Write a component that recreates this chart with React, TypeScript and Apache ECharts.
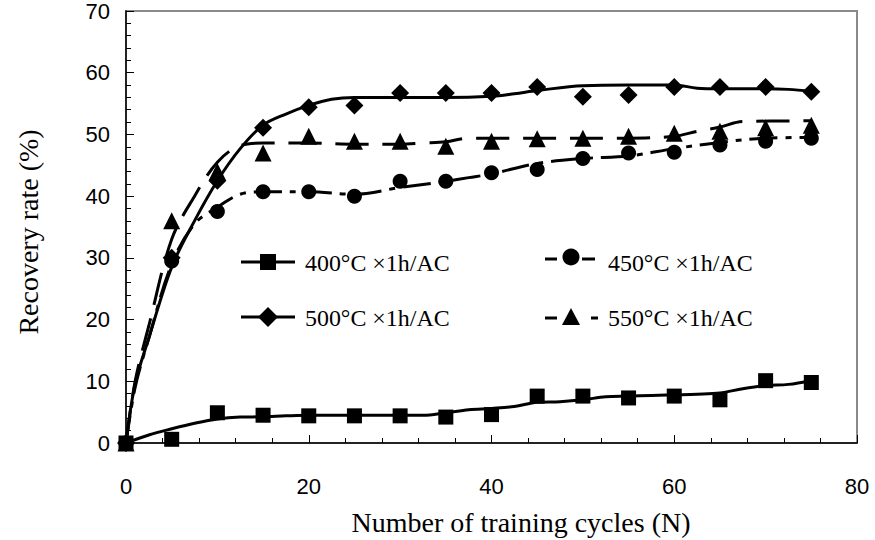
import React, { useEffect, useRef } from "react";
import * as echarts from "echarts";

// Marker positions (training cycles)
const markerCycles = [0, 5, 10, 15, 20, 25, 30, 35, 40, 45, 50, 55, 60, 65, 70, 75];
const markers400 = [0, 0.6, 4.9, 4.5, 4.4, 4.4, 4.4, 4.2, 4.6, 7.6, 7.6, 7.3, 7.6, 7.0, 10.1, 9.8];
const markers450 = [0, 29.5, 37.5, 40.7, 40.7, 40.0, 42.4, 42.4, 43.8, 44.3, 46.1, 47.0, 47.1, 48.3, 48.9, 49.4];
const markers500 = [0, 30, 42.5, 51.1, 54.4, 54.7, 56.7, 56.7, 56.7, 57.7, 56.1, 56.4, 57.7, 57.7, 57.7, 56.9];
const markers550 = [0, 36, 44.0, 47.0, 49.7, 48.9, 48.9, 48.1, 48.9, 49.3, 49.4, 49.7, 50.2, 50.5, 51.1, 51.5];

// Smoothed trend curves
const curve400X = [0, 2.5, 5, 7.5, 10, 12.5, 15, 17.5, 20, 25, 30, 32.5, 35, 37.5, 40, 42.5, 45, 47.5, 50, 52.5, 55, 60, 62.5, 65, 67.5, 70, 72.5, 75];
const curve400Y = [0, 1.3, 2.3, 3.2, 3.9, 4.2, 4.25, 4.4, 4.5, 4.5, 4.5, 4.5, 4.9, 5.4, 5.6, 5.9, 6.6, 6.7, 7.0, 7.5, 7.6, 7.8, 7.9, 8.1, 8.8, 9.3, 9.5, 10.1];
const curve450X = [0, 1, 2.5, 5, 7.5, 10, 12.5, 15, 20, 25, 30, 35, 37.5, 40, 45, 50, 55, 60, 65, 70, 75];
const curve450Y = [0, 9, 17, 29, 35.5, 38.2, 40.3, 40.7, 40.7, 40.3, 41.4, 42.4, 43, 43.6, 45.3, 46.1, 46.5, 47.7, 48.7, 49.4, 49.5];
const curve500X = [0, 1, 2.5, 5, 7.5, 10, 12.5, 15, 17.5, 20, 22.5, 25, 30, 35, 40, 42.5, 45, 50, 55, 60, 62.5, 65, 70, 72.5, 75];
const curve500Y = [0, 9.6, 17, 28.5, 36, 42.5, 47.7, 51.5, 53.3, 54.7, 55.7, 56, 56, 56, 56.2, 56.6, 57.1, 57.9, 58, 58, 57.5, 57.4, 57.4, 57.3, 57];
const curve550X = [0, 1, 2.5, 5, 7.5, 10, 12.5, 15, 20, 25, 30, 32.5, 35, 37.5, 40, 55, 60, 62.5, 65, 67.5, 75];
const curve550Y = [0, 10, 19, 33, 40, 45.5, 48.2, 48.6, 48.6, 48.4, 48.4, 48.6, 48.8, 49.4, 49.4, 49.4, 49.7, 50.5, 51.2, 52.1, 52.2];

const seriesNames = ["400°C ×1h/AC", "450°C ×1h/AC", "500°C ×1h/AC", "550°C ×1h/AC"];
const xTickValues = [0, 20, 40, 60, 80];
const yTickValues = [0, 10, 20, 30, 40, 50, 60, 70];

const zip = (xs: number[], ys: number[]) => xs.map((x, i) => [x, ys[i]]);

export default function App() {
  const ref = useRef<HTMLDivElement>(null);
  useEffect(() => {
    if (!ref.current) return;
    const chart = echarts.init(ref.current, null, { renderer: "svg" });
    const serif = "'Liberation Serif', 'Times New Roman', serif";
    const sans = "'Liberation Sans', Arial, sans-serif";
    const lineW = 3;
    const dash450 = [28, 8, 6, 8];
    const dash550 = [33, 14];

    const curve = (name: string, xs: number[], ys: number[], type: any) => ({
      name,
      type: "line",
      data: zip(xs, ys),
      smooth: 0.35,
      symbol: "none",
      lineStyle: { color: "#000", width: lineW, type },
      z: 2,
      silent: true,
    });
    const marks = (name: string, ys: number[], symbol: string, size: number) => ({
      name,
      type: "scatter",
      data: zip(markerCycles, ys),
      symbol,
      symbolSize: size,
      itemStyle: { color: "#000", opacity: 1 },
      z: 3,
    });

    const legendText = (x: number, y: number, text: string) => ({
      type: "text",
      x,
      y,
      scaleX: 1.04,
      style: {
        text,
        font: `23px ${serif}`,
        fill: "#000",
        verticalAlign: "middle",
        align: "left",
      },
    });
    const ls = { stroke: "#000", lineWidth: lineW };

    chart.setOption({
      animation: false,
      backgroundColor: "#fff",
      grid: {
        left: 126,
        right: 18,
        top: 9,
        bottom: 97,
        show: true,
        borderColor: "#8a8a8a",
        borderWidth: 2,
        containLabel: false,
      },
      xAxis: {
        type: "value",
        min: 0,
        max: 80,
        interval: 20,
        axisLine: { show: true, onZero: false, lineStyle: { color: "#000", width: 1.5 } },
        axisTick: { show: true, inside: true, length: 8, lineStyle: { color: "#000" } },
        minorTick: { show: true, splitNumber: 5, length: 5, lineStyle: { color: "#000" } },
        splitLine: { show: false },
        axisLabel: {
          margin: 32,
          fontFamily: sans,
          fontSize: 22,
          color: "#000",
          formatter: (v: number) => (xTickValues.includes(v) ? String(v) : ""),
        },
      },
      yAxis: {
        type: "value",
        min: 0,
        max: 70,
        interval: 10,
        axisLine: { show: true, onZero: false, lineStyle: { color: "#000", width: 1.5 } },
        axisTick: { show: true, inside: true, length: 8, lineStyle: { color: "#000" } },
        minorTick: { show: true, splitNumber: 5, length: 5, lineStyle: { color: "#000" } },
        splitLine: { show: false },
        axisLabel: {
          margin: 16,
          fontFamily: sans,
          fontSize: 22,
          color: "#000",
          padding: [10, 0, 0, 0],
          formatter: (v: number) => (yTickValues.includes(v) ? String(v) : ""),
        },
      },
      series: [
        curve(seriesNames[0], curve400X, curve400Y, "solid"),
        curve(seriesNames[1], curve450X, curve450Y, dash450),
        curve(seriesNames[2], curve500X, curve500Y, "solid"),
        curve(seriesNames[3], curve550X, curve550Y, dash550),
        marks(seriesNames[0], markers400, "rect", 15),
        marks(seriesNames[1], markers450, "circle", 15),
        marks(seriesNames[2], markers500, "diamond", 18),
        marks(seriesNames[3], markers550, "triangle", 17),
      ],
      graphic: [
        // axis titles
        {
          type: "text",
          x: 521,
          y: 522,
          style: {
            text: "Number of training cycles (N)",
            font: `28px ${serif}`,
            fill: "#000",
            align: "center",
            verticalAlign: "middle",
          },
        },
        {
          type: "text",
          x: 28,
          y: 232,
          rotation: Math.PI / 2,
          style: {
            text: "Recovery rate (%)",
            font: `28px ${serif}`,
            fill: "#000",
            align: "center",
            verticalAlign: "middle",
          },
        },
        // legend: 400
        { type: "line", shape: { x1: 241, y1: 262, x2: 295, y2: 262 }, style: ls },
        { type: "rect", shape: { x: 260, y: 254, width: 16, height: 16 }, style: { fill: "#000" } },
        legendText(305, 263, seriesNames[0]),
        // legend: 500
        { type: "line", shape: { x1: 241, y1: 317, x2: 295, y2: 317 }, style: ls },
        {
          type: "polygon",
          shape: { points: [[268, 307], [278, 317], [268, 327], [258, 317]] },
          style: { fill: "#000" },
        },
        legendText(305, 318, seriesNames[2]),
        // legend: 450
        { type: "line", shape: { x1: 545, y1: 259, x2: 557, y2: 259 }, style: ls },
        { type: "line", shape: { x1: 582, y1: 259, x2: 595, y2: 259 }, style: ls },
        { type: "circle", shape: { cx: 571, cy: 257, r: 8.5 }, style: { fill: "#000" } },
        legendText(608, 263, seriesNames[1]),
        // legend: 550
        { type: "line", shape: { x1: 545, y1: 318, x2: 557, y2: 318 }, style: ls },
        { type: "line", shape: { x1: 591, y1: 318, x2: 598, y2: 318 }, style: ls },
        {
          type: "polygon",
          shape: { points: [[571, 308], [580, 325], [562, 325]] },
          style: { fill: "#000" },
        },
        legendText(608, 318, seriesNames[3]),
      ],
    });
    return () => chart.dispose();
  }, []);
  return <div ref={ref} style={{ width: 875, height: 540, position: "absolute", left: 0, top: 0 }} />;
}
